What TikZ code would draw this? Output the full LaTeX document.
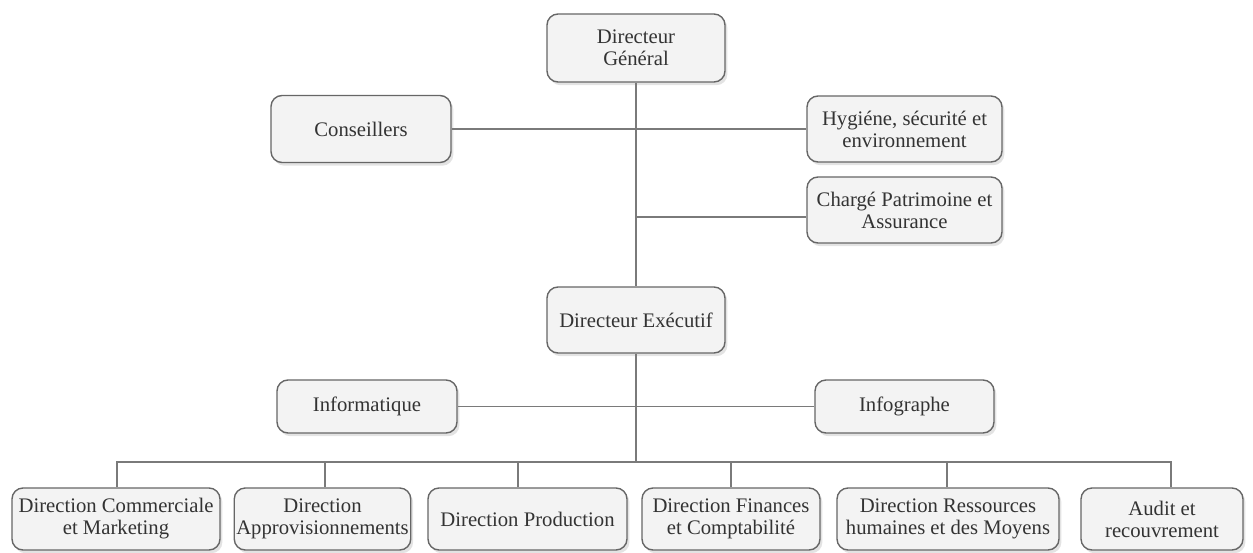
\documentclass[tikz,border=0pt]{standalone}
\usepackage{fontspec}
\setmainfont{Liberation Serif}
\usetikzlibrary{shadows}
\definecolor{TXT}{HTML}{333333}
\definecolor{EDGE}{HTML}{666666}
\definecolor{FILLG}{HTML}{F3F3F3}
\definecolor{WIRE}{HTML}{7A7A7A}

\begin{document}
\begin{tikzpicture}[
    x=0.5pt, y=-0.5pt,
    unit/.style={rectangle, rounded corners=5.5pt, draw=EDGE, fill=FILLG,
      line width=0.7pt, align=center, inner sep=1pt, text=TXT,
      font=\fontsize{10.35}{11}\selectfont,
      drop shadow={shadow xshift=1.2pt, shadow yshift=-1.6pt, opacity=0.22}},
    wide/.style={unit, minimum width=89pt, minimum height=34pt},
    staff/.style={unit, minimum width=90pt, minimum height=26.5pt},
    dept/.style={unit, minimum height=31pt},
    wire/.style={draw=WIRE, line width=0.75pt},
  ]
  \useasboundingbox (0,0) rectangle (1253,552);

  % top management
  \node[wide] (dg) at (636,48) {Directeur\\Général};
  \node[wide, minimum width=90pt, minimum height=33.5pt] (cons) at (361,129) {Conseillers};
  \node[wide, minimum width=97.5pt, minimum height=33pt] (hse) at (904.5,129) {Hygiéne, sécurité et\\environnement};
  \node[wide, minimum width=97.5pt, minimum height=33pt] (cpa) at (904.5,210) {Chargé Patrimoine et\\Assurance};
  \node[wide, minimum height=33pt] (dex) at (636,320) {Directeur Exécutif};

  % staff services
  \node[staff] (info) at (367,406.5) {Informatique};
  \node[staff, minimum width=89.5pt] (infog) at (904.5,406.5) {Infographe};

  % departments
  \node[dept, minimum width=104pt] (dcm) at (116,519) {Direction Commerciale\\et Marketing};
  \node[dept, minimum width=87.5pt] (dap) at (322.5,519) {Direction\\Approvisionnements};
  \node[dept, minimum width=99.5pt] (dpr) at (527.5,519) {Direction Production};
  \node[dept, minimum width=89pt] (dfc) at (731,519) {Direction Finances\\et Comptabilité};
  \node[dept, minimum width=111pt] (drh) at (948,519) {Direction Ressources\\humaines et des Moyens};
  \node[dept, minimum width=81pt] (aud) at (1162,519) {Audit et\\recouvrement};

  \coordinate (cpaj) at (636,217);
  \coordinate (bus) at (636,462);

  % connectors
  \draw[wire] (dg.south) -- (dex.north);
  \draw[wire] (cons.east) -- (hse.west);
  \draw[wire] (cpaj) -- (cpaj -| cpa.west);
  \draw[wire] (info.east) -- (infog.west);
  \draw[wire] (dex.south) -- (bus);
  \foreach \b/\dx in {dcm/1, dap/2.5, dpr/-9.5, dfc/0, drh/-1, aud/9}
    \draw[wire] (\b.north) ++(\dx,0) |- (bus);

\end{tikzpicture}
\end{document}
